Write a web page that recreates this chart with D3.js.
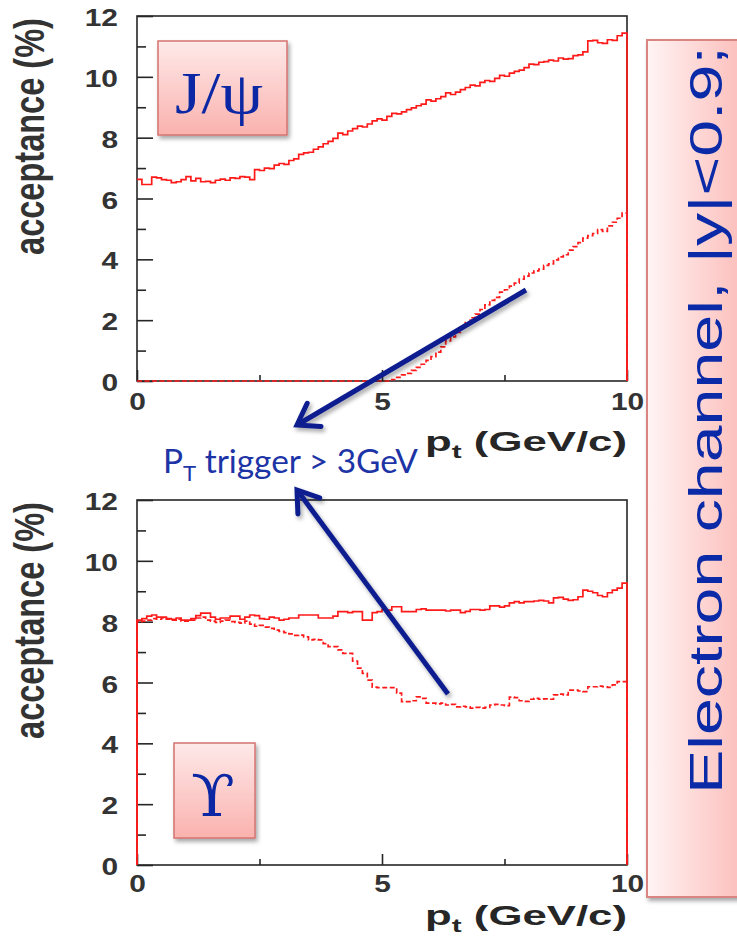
<!DOCTYPE html>
<html>
<head>
<meta charset="utf-8">
<script src="https://cdn.jsdelivr.net/npm/d3@7"></script>
<style>
  body { margin: 0; background: #fff; }
  svg { display: block; }
</style>
</head>
<body>
<svg id="chart" width="737" height="941"></svg>
<script>
// ---- data -------------------------------------------------------------
const ptDomain = [0, 10];
const ptBinWidth = 0.1;
const accDomain = [0, 12];
const yMajorTicks = [0, 2, 4, 6, 8, 10, 12];
const yMinorTicks = [1, 3, 5, 7, 9, 11];
const xMajorTicks = [0, 5, 10];
const xMinorTicks = [2.5, 7.5];

// J/psi acceptance (%), 0.1 GeV/c bins, no trigger cut
const jpsiAll = [
  6.63, 6.46, 6.46, 6.70, 6.68, 6.62, 6.60, 6.52, 6.55, 6.62,
  6.72, 6.58, 6.66, 6.55, 6.56, 6.52, 6.60, 6.64, 6.60, 6.68,
  6.66, 6.72, 6.70, 6.62, 6.95, 6.92, 7.00, 6.98, 7.10, 7.15,
  7.12, 7.25, 7.30, 7.45, 7.50, 7.52, 7.62, 7.70, 7.80, 7.88,
  7.98, 8.15, 8.10, 8.22, 8.30, 8.38, 8.35, 8.45, 8.55, 8.62,
  8.58, 8.70, 8.80, 8.78, 8.85, 8.92, 8.98, 9.05, 9.10, 9.24,
  9.20, 9.28, 9.35, 9.47, 9.42, 9.50, 9.58, 9.65, 9.73, 9.70,
  9.82, 9.88, 9.85, 9.95, 10.05, 10.02, 10.12, 10.18, 10.22, 10.30,
  10.42, 10.40, 10.48, 10.50, 10.55, 10.52, 10.62, 10.58, 10.60, 10.70,
  10.72, 10.82, 11.18, 11.20, 11.12, 11.10, 11.22, 11.20, 11.35, 11.44
];
// J/psi acceptance (%) with pT trigger > 3 GeV
const jpsiTrig = [
  0, 0, 0, 0, 0, 0, 0, 0, 0, 0,
  0, 0, 0, 0, 0, 0, 0, 0, 0, 0,
  0, 0, 0, 0, 0, 0, 0, 0, 0, 0,
  0, 0, 0, 0, 0, 0, 0, 0, 0, 0,
  0, 0, 0, 0, 0, 0, 0, 0, 0, 0,
  0, 0, 0.05, 0.12, 0.20, 0.25, 0.35, 0.45, 0.55, 0.68,
  0.80, 0.95, 1.12, 1.32, 1.45, 1.60, 1.78, 1.92, 2.08, 2.20,
  2.35, 2.50, 2.65, 2.75, 2.92, 3.00, 3.12, 3.22, 3.35, 3.45,
  3.55, 3.62, 3.68, 3.80, 3.85, 3.98, 4.08, 4.15, 4.30, 4.42,
  4.55, 4.70, 4.78, 4.85, 4.98, 4.92, 5.10, 5.22, 5.35, 5.52
];
// Upsilon acceptance (%), no trigger cut
const upsAll = [
  8.05, 8.10, 8.18, 8.22, 8.15, 8.15, 8.10, 8.08, 8.12, 8.05,
  8.05, 8.10, 8.20, 8.28, 8.28, 8.15, 8.08, 8.12, 8.12, 8.18,
  8.18, 8.08, 8.15, 8.22, 8.20, 8.10, 8.08, 8.15, 8.12, 8.05,
  8.08, 8.12, 8.12, 8.22, 8.22, 8.22, 8.22, 8.12, 8.12, 8.12,
  8.18, 8.33, 8.33, 8.30, 8.33, 8.33, 8.05, 8.05, 8.30, 8.33,
  8.40, 8.38, 8.49, 8.49, 8.33, 8.33, 8.33, 8.40, 8.42, 8.38,
  8.38, 8.38, 8.38, 8.35, 8.38, 8.38, 8.30, 8.34, 8.40, 8.40,
  8.38, 8.40, 8.52, 8.52, 8.48, 8.52, 8.62, 8.66, 8.62, 8.66,
  8.66, 8.68, 8.70, 8.68, 8.62, 8.78, 8.80, 8.74, 8.70, 8.72,
  8.82, 9.04, 9.00, 8.95, 8.86, 8.82, 8.95, 9.04, 9.10, 9.27
];
// Upsilon acceptance (%) with pT trigger > 3 GeV
const upsTrig = [
  8.00, 8.02, 8.05, 8.10, 8.08, 8.12, 8.08, 8.05, 8.08, 8.02,
  8.02, 8.05, 8.12, 8.15, 8.05, 8.02, 7.98, 8.02, 8.05, 8.00,
  7.98, 7.95, 8.02, 7.92, 7.85, 7.88, 7.82, 7.78, 7.72, 7.68,
  7.64, 7.60, 7.55, 7.56, 7.50, 7.40, 7.42, 7.40, 7.28, 7.18,
  7.18, 7.07, 6.96, 6.96, 6.70, 6.47, 6.30, 6.08, 5.85, 5.83,
  5.83, 5.83, 5.83, 5.65, 5.37, 5.37, 5.40, 5.53, 5.48, 5.32,
  5.32, 5.30, 5.32, 5.26, 5.28, 5.20, 5.22, 5.20, 5.16, 5.18,
  5.16, 5.18, 5.26, 5.28, 5.26, 5.24, 5.52, 5.50, 5.40, 5.38,
  5.45, 5.48, 5.45, 5.46, 5.45, 5.59, 5.62, 5.59, 5.75, 5.75,
  5.72, 5.70, 5.86, 5.86, 5.88, 5.86, 5.84, 5.92, 6.03, 6.03
];

const yTitle = "acceptance (%)";
const xTitleMain = "p";
const xTitleSub = "t";
const xTitleRest = " (GeV/c)";
const particleLabels = ["J/\u03C8", "\u03D2"];
const noteMain = "P";
const noteSub = "T";
const noteRest = " trigger > 3GeV";
const sideNote = "Electron channel, |y|<0.9;";

// ---- layout -----------------------------------------------------------
const plotLeft = 137, plotRight = 627;
const panels = [
  { top: 16, bottom: 381, all: jpsiAll, trig: jpsiTrig, dropLeft: false,
    xLabelBase: 410, xTitleBase: 451, yTitleMid: 136.5 },
  { top: 500, bottom: 865, all: upsAll, trig: upsTrig, dropLeft: true,
    xLabelBase: 892, xTitleBase: 925, yTitleMid: 620.5 }
];

const RED = "#ff1a1a";
const INK = "#262626";
const NAVY = "#0d1f8f";
const BLUE = "#1d34a6";

const svg = d3.select("#chart");
const defs = svg.append("defs");

// soft drop shadow used by boxes and arrows
const sh = defs.append("filter").attr("id", "shadow")
  .attr("x", "-20%").attr("y", "-20%").attr("width", "150%").attr("height", "150%");
sh.append("feDropShadow").attr("dx", 2).attr("dy", 3).attr("stdDeviation", 2)
  .attr("flood-color", "#000").attr("flood-opacity", 0.35);

const gv = defs.append("linearGradient").attr("id", "pinkV")
  .attr("x1", 0).attr("y1", 0).attr("x2", 0).attr("y2", 1);
gv.append("stop").attr("offset", "0%").attr("stop-color", "#fee9e9");
gv.append("stop").attr("offset", "100%").attr("stop-color", "#fab2ae");

const gh = defs.append("linearGradient").attr("id", "pinkH")
  .attr("x1", 0).attr("y1", 0).attr("x2", 1).attr("y2", 0);
gh.append("stop").attr("offset", "0%").attr("stop-color", "#fff4f4");
gh.append("stop").attr("offset", "100%").attr("stop-color", "#fbb6b2");

// place a text so that its advance length equals `width`
function fitText(t, { x, y, width, anchor = "start", rotate = 0, sy = 1 }) {
  t.attr("x", 0).attr("y", 0).attr("text-anchor", anchor);
  const len = t.node().getComputedTextLength();
  const sx = width / len;
  t.attr("transform", `translate(${x},${y}) rotate(${rotate}) scale(${sx},${sy})`);
}

const x = d3.scaleLinear().domain(ptDomain).range([plotLeft, plotRight]);

panels.forEach((p) => {
  const y = d3.scaleLinear().domain(accDomain).range([p.bottom, p.top]);
  const g = svg.append("g");

  // frame
  g.append("rect")
    .attr("x", plotLeft).attr("y", p.top)
    .attr("width", plotRight - plotLeft).attr("height", p.bottom - p.top)
    .attr("fill", "none").attr("stroke", INK).attr("stroke-width", 1.6);

  // y axis: minor and major ticks pointing inwards
  const yMinor = d3.axisLeft(y).tickValues(yMinorTicks).tickSize(-9).tickFormat("");
  const yMajor = d3.axisLeft(y).tickValues(yMajorTicks).tickSize(-16).tickPadding(19)
    .tickFormat(d3.format("d"));
  [yMinor, yMajor].forEach((ax) => {
    const a = g.append("g").attr("transform", `translate(${plotLeft},0)`).call(ax);
    a.select(".domain").remove();
    a.selectAll(".tick line").attr("stroke", INK).attr("stroke-width", 1.6);
    a.selectAll(".tick text")
      .attr("x", null).attr("dy", null)
      .attr("transform", "translate(-19,9.5) scale(1.3,1)")
      .attr("fill", "#333").attr("font-family", "'Liberation Sans', Arial, sans-serif")
      .attr("font-weight", "bold").attr("font-size", 23);
  });

  // x axis
  const xMinor = d3.axisBottom(x).tickValues(xMinorTicks).tickSize(-6).tickFormat("");
  const xMajor = d3.axisBottom(x).tickValues(xMajorTicks).tickSize(-11)
    .tickFormat(d3.format("d"));
  [xMinor, xMajor].forEach((ax) => {
    const a = g.append("g").attr("transform", `translate(0,${p.bottom})`).call(ax);
    a.select(".domain").remove();
    a.selectAll(".tick line").attr("stroke", INK).attr("stroke-width", 1.6);
    a.selectAll(".tick text")
      .attr("y", null).attr("dy", null)
      .attr("transform", `translate(0,${p.xLabelBase - p.bottom}) scale(1.3,1)`)
      .attr("fill", "#333").attr("font-family", "'Liberation Sans', Arial, sans-serif")
      .attr("font-weight", "bold").attr("font-size", 23);
  });

  // histogram outlines
  const stepPoints = (vals, dropLeft) => {
    const pts = [];
    if (dropLeft) pts.push([0, 0]);
    vals.forEach((v, i) => {
      pts.push([i * ptBinWidth, v]);
      pts.push([(i + 1) * ptBinWidth, v]);
    });
    pts.push([ptDomain[1], 0]);
    return pts;
  };
  const line = d3.line().x((d) => x(d[0])).y((d) => y(d[1]));

  g.append("path").attr("d", line(stepPoints(p.trig, p.dropLeft)))
    .attr("fill", "none").attr("stroke", RED).attr("stroke-width", 1.7)
    .attr("stroke-dasharray", "5,2.5");
  g.append("path").attr("d", line(stepPoints(p.all, p.dropLeft)))
    .attr("fill", "none").attr("stroke", RED).attr("stroke-width", 1.7);

  // axis titles
  const yt = svg.append("text").text(yTitle)
    .attr("fill", "#333").attr("font-family", "'Liberation Sans', Arial, sans-serif")
    .attr("font-weight", "bold").attr("font-size", 30);
  fitText(yt, { x: 44, y: p.yTitleMid, width: 237, anchor: "middle", rotate: -90, sy: 1.42 });

  const xt = svg.append("text")
    .attr("fill", "#262626").attr("font-family", "'Liberation Sans', Arial, sans-serif")
    .attr("font-weight", "bold").attr("font-size", 28);
  xt.append("tspan").text(xTitleMain);
  xt.append("tspan").text(xTitleSub).attr("font-size", 19).attr("dy", 7);
  xt.append("tspan").text(xTitleRest).attr("dy", -7);
  fitText(xt, { x: plotRight, y: p.xTitleBase, width: 202, anchor: "end" });
});

// particle label boxes
const labelBoxes = [
  { x0: 158, y0: 41, x1: 287, y1: 135, textX: 219, textBase: 113, textW: 88, size: 60,
    font: "'Liberation Serif', 'DejaVu Serif', serif" },
  { x0: 174, y0: 743, x1: 255, y1: 838, textX: 213, textBase: 816, textW: 44, size: 58,
    font: "'DejaVu Serif', 'Liberation Serif', serif" }
];
labelBoxes.forEach((b, i) => {
  svg.append("rect")
    .attr("x", b.x0).attr("y", b.y0).attr("width", b.x1 - b.x0).attr("height", b.y1 - b.y0)
    .attr("fill", "url(#pinkV)").attr("stroke", "#d4736f").attr("stroke-width", 1.5)
    .attr("filter", "url(#shadow)");
  const t = svg.append("text").text(particleLabels[i])
    .attr("fill", "#0b27a3")
    .attr("font-family", b.font)
    .attr("font-size", b.size);
  fitText(t, { x: b.textX, y: b.textBase, width: b.textW, anchor: "middle" });
});

// right side note box
svg.append("rect")
  .attr("x", 647).attr("y", 40).attr("width", 110).attr("height", 857)
  .attr("fill", "url(#pinkH)").attr("stroke", "#d98682").attr("stroke-width", 2)
  .attr("filter", "url(#shadow)");
const side = svg.append("text").text(sideNote)
  .attr("fill", "#0b2aa8")
  .attr("font-family", "'Liberation Sans Narrow', 'Liberation Sans', sans-serif")
  .attr("font-size", 46);
fitText(side, { x: 722, y: 794, width: 748, anchor: "start", rotate: -90 });

// trigger note and arrows
const note = svg.append("text")
  .attr("fill", BLUE).attr("font-family", "Lato, 'Open Sans', sans-serif")
  .attr("font-size", 33);
note.append("tspan").text(noteMain);
note.append("tspan").text(noteSub).attr("font-size", 22).attr("dy", 8);
note.append("tspan").text(noteRest).attr("dy", -8);
fitText(note, { x: 163, y: 473, width: 255, anchor: "start" });

const arrows = [
  { from: [526, 290], to: [297, 425] },
  { from: [448, 694], to: [297, 490] }
];
arrows.forEach((a) => {
  const [x0, y0] = a.from, [x1, y1] = a.to;
  const ang = Math.atan2(y0 - y1, x0 - x1);
  const wing = 24, spread = 0.6;
  const w1 = [x1 + wing * Math.cos(ang + spread), y1 + wing * Math.sin(ang + spread)];
  const w2 = [x1 + wing * Math.cos(ang - spread), y1 + wing * Math.sin(ang - spread)];
  const g = svg.append("g").attr("filter", "url(#shadow)");
  g.append("line").attr("x1", x0).attr("y1", y0).attr("x2", x1 + 2 * Math.cos(ang)).attr("y2", y1 + 2 * Math.sin(ang))
    .attr("stroke", NAVY).attr("stroke-width", 5);
  g.append("path").attr("d", `M${w1[0]},${w1[1]}L${x1},${y1}L${w2[0]},${w2[1]}`)
    .attr("fill", "none").attr("stroke", NAVY).attr("stroke-width", 5)
    .attr("stroke-linejoin", "miter").attr("stroke-linecap", "round");
});
</script>
</body>
</html>
